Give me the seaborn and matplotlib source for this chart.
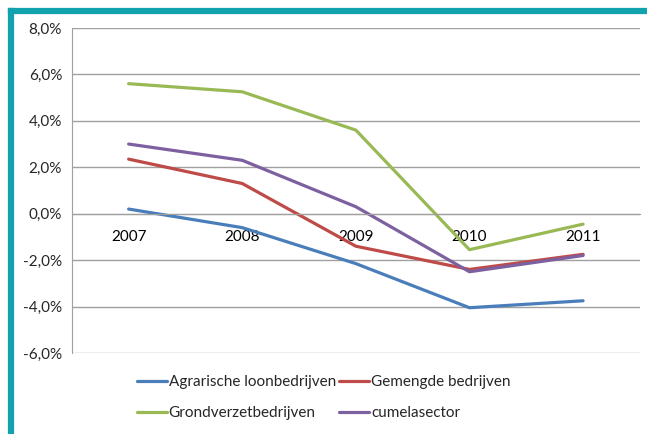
import pandas as pd
import matplotlib
matplotlib.use('Agg')
import matplotlib.pyplot as plt
from matplotlib.lines import Line2D
from matplotlib.ticker import FuncFormatter
import seaborn as sns

# --- data ---
years = ['2007', '2008', '2009', '2010', '2011']
agrarische = [0.2, -0.6, -2.15, -4.05, -3.75]
gemengde = [2.35, 1.3, -1.4, -2.4, -1.75]
grondverzet = [5.6, 5.25, 3.6, -1.55, -0.45]
cumela = [3.0, 2.3, 0.3, -2.5, -1.8]

series = ['Agrarische loonbedrijven', 'Gemengde bedrijven',
          'Grondverzetbedrijven', 'cumelasector']
colors = ['#4A7EBB', '#BE4B48', '#98B954', '#7D60A0']

rows = []
for name, vals in zip(series, [agrarische, gemengde, grondverzet, cumela]):
    for y, v in zip(years, vals):
        rows.append({'jaar': y, 'groei': v, 'sector': name})
df = pd.DataFrame(rows)

sns.set_style('white')
plt.rcParams['font.family'] = ['Lato', 'DejaVu Sans']

fig = plt.figure(figsize=(6.47, 4.34), dpi=100)
ax = fig.add_axes([0.111, 0.1866, 0.878, 0.749])

sns.lineplot(data=df, x='jaar', y='groei', hue='sector', hue_order=series,
             palette=colors, linewidth=2.3, sort=False, ax=ax, legend=False)

ax.set_ylim(-6, 8)
ax.set_xlim(-0.5, 4.5)
ax.set_yticks(range(-6, 9, 2))
ax.yaxis.set_major_formatter(FuncFormatter(lambda v, p: f'{v:.1f}%'.replace('.', ',')))
ax.grid(axis='y', color='#A0A0A0', linewidth=1)
ax.set_axisbelow(True)
ax.set_xlabel('')
ax.set_ylabel('')

for s in ['top', 'right']:
    ax.spines[s].set_visible(False)
ax.spines['left'].set_color('#A0A0A0')
ax.spines['bottom'].set_color('#A0A0A0')
ax.spines['bottom'].set_position(('data', 0))

ax.set_xticks(range(len(years)))
ax.set_xticklabels(years)
ax.set_xticks([i + 0.5 for i in range(-1, len(years))], minor=True)
ax.tick_params(axis='x', which='major', length=0, pad=12, labelsize=11, colors='black')
ax.tick_params(axis='x', which='minor', length=3.5, color='#A0A0A0', direction='out')
ax.tick_params(axis='y', length=4, color='#A0A0A0', labelsize=11, pad=3)

# legend fills column-wise: order so rows read Agrarische/Gemengde, Grondverzet/cumela
order = [0, 2, 1, 3]
handles = [Line2D([0], [0], color=colors[i], linewidth=2.3) for i in order]
labels = [series[i] for i in order]
fig.legend(handles, labels, ncol=2, loc='center', bbox_to_anchor=(0.5, 0.084),
           frameon=False, fontsize=11, handlelength=2.0, handletextpad=0.1,
           columnspacing=0.2, labelspacing=1.1)

# teal frame on the left and top
teal = '#12A2AE'
fig.add_artist(Line2D([0.017, 0.017], [0, 0.975], color=teal, linewidth=4.5,
                      transform=fig.transFigure, solid_capstyle='projecting'))
fig.add_artist(Line2D([0.017, 1.0], [0.975, 0.975], color=teal, linewidth=4.5,
                      transform=fig.transFigure, solid_capstyle='projecting'))

fig.savefig('out.png', dpi=100)
